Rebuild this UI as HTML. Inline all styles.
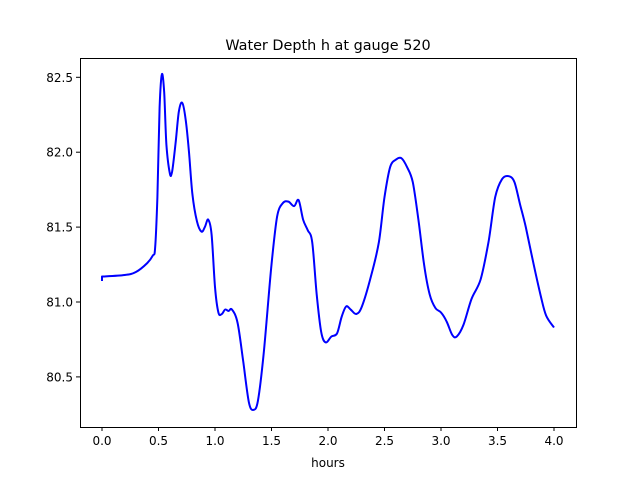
<!DOCTYPE html>
<html><head><meta charset="utf-8"><style>body{margin:0;background:#fff}svg{display:block}text{font-family:"DejaVu Sans","Liberation Sans",sans-serif;font-size:12px;fill:#000}</style></head>
<body>
<svg id="s" width="640" height="480" xmlns="http://www.w3.org/2000/svg">
<rect width="640" height="480" fill="#fff"/>
<text x="328" y="50" text-anchor="middle" style="font-size:14.4px">Water Depth h at gauge 520</text>
<g id="ticks"></g>
<path id="line" fill="none" stroke="#0000ff" stroke-width="2" stroke-linejoin="round"/>
<rect x="80.5" y="58.5" width="496" height="369" fill="none" stroke="#000" stroke-width="1"/>
<text x="328" y="467" text-anchor="middle">hours</text>
</svg>
<script>
var X=function(h){return 102+113*h},Y=function(v){return 302-(v-81)*149.8};
var d=[[0,81.17],[0.2,81.18],[0.3,81.2],[0.4,81.26],[0.45,81.31],[0.47,81.36],[0.49,81.7],[0.51,82.3],[0.53,82.52],[0.55,82.4],[0.57,82.05],[0.6,81.86],[0.62,81.87],[0.65,82.05],[0.68,82.27],[0.71,82.33],[0.74,82.22],[0.77,82.0],[0.8,81.72],[0.84,81.54],[0.88,81.47],[0.91,81.5],[0.94,81.55],[0.97,81.45],[1.0,81.1],[1.03,80.93],[1.06,80.92],[1.09,80.95],[1.12,80.94],[1.15,80.95],[1.2,80.86],[1.25,80.6],[1.3,80.33],[1.34,80.28],[1.38,80.34],[1.43,80.65],[1.5,81.25],[1.55,81.57],[1.6,81.66],[1.65,81.67],[1.7,81.64],[1.74,81.68],[1.78,81.55],[1.82,81.48],[1.86,81.4],[1.9,81.05],[1.94,80.8],[1.98,80.73],[2.03,80.77],[2.08,80.79],[2.12,80.9],[2.16,80.97],[2.2,80.95],[2.25,80.92],[2.3,80.97],[2.38,81.17],[2.45,81.4],[2.5,81.7],[2.55,81.9],[2.6,81.95],[2.65,81.96],[2.7,81.9],[2.75,81.8],[2.8,81.55],[2.85,81.25],[2.9,81.05],[2.95,80.96],[3.0,80.93],[3.05,80.87],[3.1,80.78],[3.14,80.77],[3.2,80.85],[3.27,81.02],[3.35,81.15],[3.42,81.4],[3.48,81.7],[3.54,81.82],[3.6,81.84],[3.65,81.8],[3.7,81.65],[3.75,81.5],[3.82,81.25],[3.88,81.05],[3.93,80.91],[4.0,80.83]];
var P=d.map(function(p){return [X(p[0]),Y(p[1])]});
var s='M'+X(0)+','+Y(81.14)+' L'+P[0][0]+','+P[0][1];
for(var i=0;i<P.length-1;i++){var p0=P[Math.max(i-1,0)],p1=P[i],p2=P[i+1],p3=P[Math.min(i+2,P.length-1)];
var c1=[p1[0]+(p2[0]-p0[0])/6,p1[1]+(p2[1]-p0[1])/6],c2=[p2[0]-(p3[0]-p1[0])/6,p2[1]-(p3[1]-p1[1])/6];
s+=' C'+c1[0].toFixed(1)+','+c1[1].toFixed(1)+' '+c2[0].toFixed(1)+','+c2[1].toFixed(1)+' '+p2[0].toFixed(1)+','+p2[1].toFixed(1);}
document.getElementById('line').setAttribute('d',s);
var g='';
for(i=0;i<=8;i++){var x=X(i*0.5);g+='<line x1="'+x+'" y1="427" x2="'+x+'" y2="431" stroke="#000"/><text x="'+x+'" y="445" text-anchor="middle">'+(i*0.5).toFixed(1)+'</text>';}
for(i=0;i<=4;i++){var v=80.5+i*0.5,y=Y(v);g+='<line x1="76" y1="'+y+'" x2="80" y2="'+y+'" stroke="#000"/><text x="73" y="'+(y+4.5)+'" text-anchor="end">'+v.toFixed(1)+'</text>';}
document.getElementById('ticks').innerHTML=g;
</script>
</body></html>
